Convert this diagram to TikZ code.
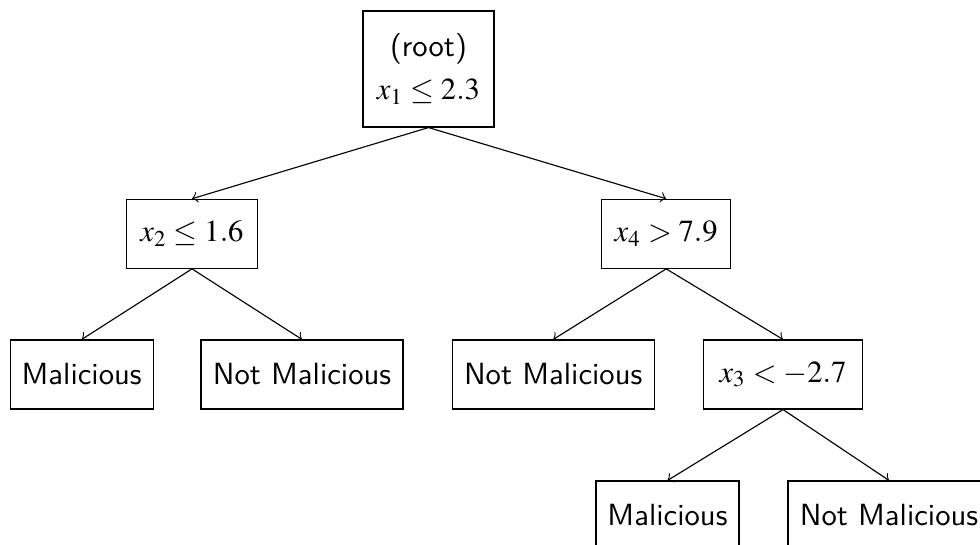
\documentclass[tikz,border=0pt]{standalone}
\usepackage{mathptmx}
\newcommand\treefont{\fontsize{9.5}{11.5}\selectfont\sffamily}
\begin{document}
\begin{tikzpicture}[x=0.31pt, y=-0.31pt,
  box/.style={draw, line width=0.35pt, inner sep=0pt, align=center, font=\treefont,
    minimum height=21.39pt},
  leaf/.style={box, minimum width=44.33pt},
  wideleaf/.style={box, minimum width=62.62pt},
  edge/.style={->, line width=0.35pt}]
\useasboundingbox (0,0) rectangle (980,544);
% decision tree
\node[box, minimum width=40.61pt, minimum height=35.96pt] (root) at (428.5,69) {(root)\\[2pt]$x_1 \le 2.3$};
\node[box, minimum width=40.61pt] (a) at (192,233.8) {$x_2 \le 1.6$};
\node[box, minimum width=39.99pt] (b) at (666.2,233.8) {$x_4 > 7.9$};
\node[leaf] (aa) at (81.7,374.5) {Malicious};
\node[wideleaf] (ab) at (302,374.5) {Not Malicious};
\node[wideleaf] (ba) at (553.2,374.5) {Not Malicious};
\node[box, minimum width=49.29pt] (bb) at (783,374.5) {$x_3 < -2.7$};
\node[leaf] (bba) at (667.5,515.5) {Malicious};
\node[wideleaf] (bbb) at (889,515.5) {Not Malicious};
\draw[edge] (root.south) -- (a.north);
\draw[edge] (root.south) -- (b.north);
\draw[edge] (a.south) -- (aa.north);
\draw[edge] (a.south) -- (ab.north);
\draw[edge] (b.south) -- (ba.north);
\draw[edge] (b.south) -- (bb.north);
\draw[edge] (bb.south) -- (bba.north);
\draw[edge] (bb.south) -- (bbb.north);
\end{tikzpicture}
\end{document}
